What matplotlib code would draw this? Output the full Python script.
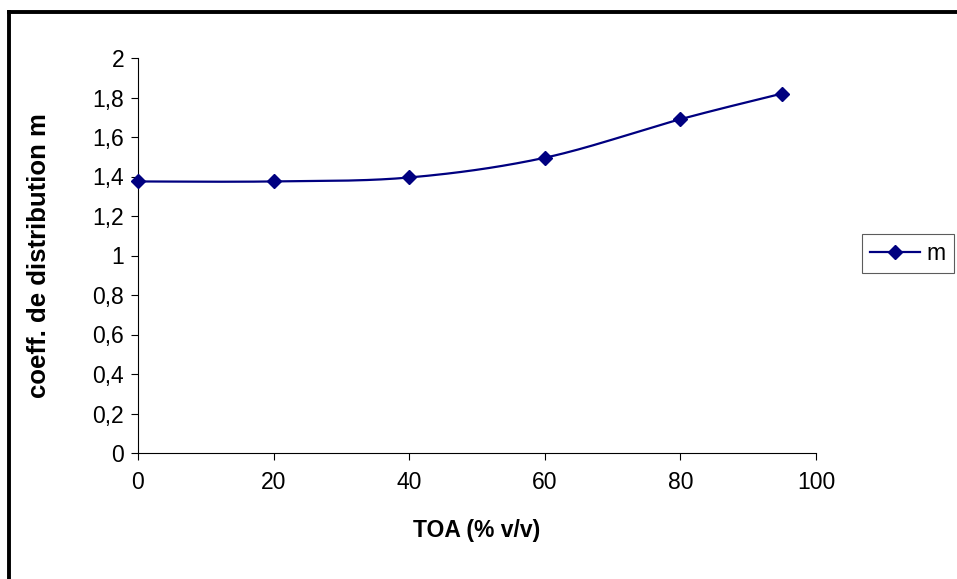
import numpy as np
import matplotlib
matplotlib.use("Agg")
import matplotlib.pyplot as plt
from matplotlib.lines import Line2D

plt.rcParams['font.family'] = ['Liberation Sans', 'DejaVu Sans']

# data
toa = [0, 20, 40, 60, 80, 95]
m_vals = [1.375, 1.375, 1.395, 1.495, 1.69, 1.82]
x_ticks = [0, 20, 40, 60, 80, 100]
y_ticks = [0, 0.2, 0.4, 0.6, 0.8, 1, 1.2, 1.4, 1.6, 1.8, 2]
y_labels = ['0', '0,2', '0,4', '0,6', '0,8', '1', '1,2', '1,4', '1,6', '1,8', '2']

navy = '#000080'


def smooth(x, y, n=30):
    # Excel-like smoothed line (Catmull-Rom / Bezier)
    x = np.asarray(x, float)
    y = np.asarray(y, float)
    px = np.concatenate([[x[0]], x, [x[-1]]])
    py = np.concatenate([[y[0]], y, [y[-1]]])
    xs, ys = [], []
    t = np.linspace(0, 1, n)
    for i in range(1, len(px) - 2):
        p0 = np.array([px[i], py[i]])
        p3 = np.array([px[i + 1], py[i + 1]])
        p1 = p0 + (np.array([px[i + 1], py[i + 1]]) - np.array([px[i - 1], py[i - 1]])) / 6
        p2 = p3 - (np.array([px[i + 2], py[i + 2]]) - np.array([px[i], py[i]])) / 6
        b = ((1 - t) ** 3)[:, None] * p0 + (3 * (1 - t) ** 2 * t)[:, None] * p1 \
            + (3 * (1 - t) * t ** 2)[:, None] * p2 + (t ** 3)[:, None] * p3
        xs.extend(b[:, 0])
        ys.extend(b[:, 1])
    return np.array(xs), np.array(ys)


fig = plt.figure(figsize=(9.57, 5.79), dpi=100)
ax = fig.add_axes([138 / 957, 1 - 453 / 579, (816 - 138) / 957, (453 - 58) / 579])

sx, sy = smooth(toa, m_vals)
ax.plot(sx, sy, color=navy, lw=1.6, zorder=2)
ax.plot(toa, m_vals, ls='none', marker='D', ms=7, color=navy, zorder=3, clip_on=False)

ax.set_xlim(0, 100)
ax.set_ylim(0, 2)
ax.set_xticks(x_ticks)
ax.set_yticks(y_ticks)
ax.set_yticklabels(y_labels)
ax.tick_params(labelsize=16.5, length=5, width=0.8, direction='out', pad=5)
ax.tick_params(axis='x', pad=8)
for s in ['top', 'right']:
    ax.spines[s].set_visible(False)
for s in ['left', 'bottom']:
    ax.spines[s].set_linewidth(0.8)

ax.set_xlabel('TOA (% v/v)', fontsize=16.5, fontweight='bold', labelpad=18)
ax.set_ylabel('coeff. de distribution m', fontsize=18.5, fontweight='bold', labelpad=30)

handle = Line2D([], [], color=navy, lw=1.6, marker='D', ms=7)
leg = fig.legend([handle], ['m'], loc='center left',
                 bbox_to_anchor=(857 / 957, 1 - 253.5 / 579), fontsize=16.5,
                 frameon=True, fancybox=False, edgecolor='#333333',
                 handlelength=2.2, borderpad=0.35, handletextpad=0.3, borderaxespad=0.2)
leg.get_frame().set_linewidth(0.8)

# outer chart border (runs off the right and bottom)
fig.add_artist(Line2D([8.5 / 957, 8.5 / 957], [0, 1 - 12 / 579], color='black', lw=2.8,
                      transform=fig.transFigure, solid_capstyle='projecting'))
fig.add_artist(Line2D([8.5 / 957, 1], [1 - 12 / 579, 1 - 12 / 579], color='black', lw=2.8,
                      transform=fig.transFigure, solid_capstyle='projecting'))

fig.savefig('out.png', dpi=100, facecolor='white')
